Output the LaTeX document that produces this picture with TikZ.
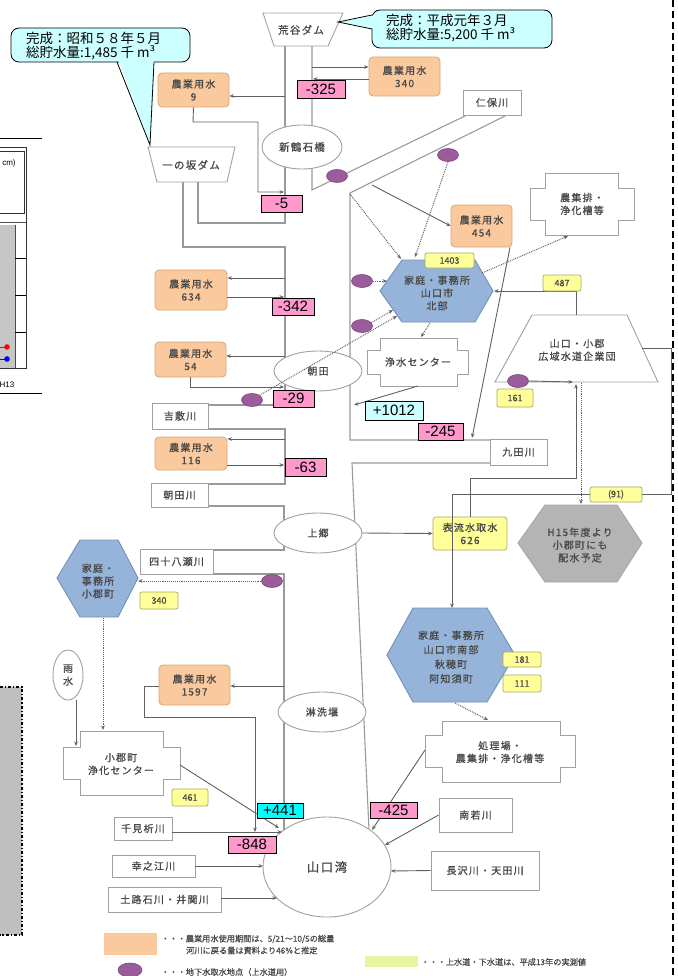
\documentclass[tikz,border=0pt]{standalone}
\usepackage{fontspec}
\setmainfont{Liberation Sans}
\newfontfamily\jp[LetterSpace=12,FakeBold=0.8]{Noto Sans CJK JP}
\newfontfamily\jpc{Noto Sans CJK JP}
\newfontfamily\jpy[FakeBold=0.6]{Noto Sans CJK JP}
\usetikzlibrary{arrows.meta,shapes.geometric}
\definecolor{rivc}{HTML}{9A9A9A}
\definecolor{flc}{HTML}{606060}
\definecolor{txt}{HTML}{484848}
\definecolor{boxd}{HTML}{A0A0A0}
\definecolor{agrif}{HTML}{FAC99E}
\definecolor{agrid}{HTML}{D8A676}
\definecolor{pinkf}{HTML}{FF99CC}
\definecolor{cyanl}{HTML}{CCFFFF}
\definecolor{cyand}{HTML}{00FFFF}
\definecolor{yelf}{HTML}{FFFF99}
\definecolor{yeld}{HTML}{A8A860}
\definecolor{hexf}{HTML}{96B4DA}
\definecolor{hexd}{HTML}{7090B8}
\definecolor{grayf}{HTML}{B4B4B4}
\definecolor{purf}{HTML}{9A5C9A}
\definecolor{purd}{HTML}{7A467A}
\definecolor{legy}{HTML}{E8F5A0}
\newcommand\boxfont{\jp\fontsize{10}{12.8}\selectfont}
\newcommand\numfont{\fontsize{15}{15}\selectfont}
\newcommand\yelfont{\jpy\fontsize{9}{10}\selectfont}
\newcommand\calfont{\jpc\fontsize{13.5}{14.5}\selectfont}
\newcommand\legfont{\jpy\fontsize{8.2}{11}\selectfont}
\begin{document}
\begin{tikzpicture}[x=1pt,y=-1pt,
 wh/.style 2 args={minimum width=#1pt, minimum height=#2pt},
 riv/.style={draw=rivc, line width=1.1pt},
 fl/.style={draw=flc, line width=0.9pt, -{Stealth[length=4.5pt,width=3.6pt]}},
 dfl/.style={fl, densely dotted, line width=1pt},
 agri/.style={draw=agrid, fill=agrif, rounded corners=4pt, line width=0.8pt, inner sep=0pt, align=center, font=\boxfont, text=txt},
 pnk/.style={draw=black, fill=pinkf, inner sep=0pt, font=\numfont, line width=0.7pt},
 cyl/.style={pnk, fill=cyanl},
 cyd/.style={pnk, fill=cyand},
 yel/.style={draw=yeld, fill=yelf, rounded corners=2pt, inner sep=0pt, font=\yelfont, text=txt, line width=0.7pt, align=center},
 rbox/.style={draw=boxd, fill=white, inner sep=0pt, font=\boxfont, text=txt, line width=0.9pt},
 ell/.style={ellipse, draw=boxd, fill=white, inner sep=0pt, font=\boxfont, text=txt, line width=0.9pt, align=center},
 shp/.style={draw=boxd, fill=white, line width=0.9pt},
 hexb/.style={draw=hexd, fill=hexf, line width=0.9pt},
 purp/.style={ellipse, draw=purd, fill=purf, minimum width=21pt, minimum height=13pt, inner sep=0pt, line width=0.6pt},
 lbl/.style={inner sep=0pt, align=center, font=\boxfont, text=txt},
 cal/.style={draw=black, fill=cyanl, line width=0.8pt},
 leg/.style={inner sep=0pt, anchor=west, font=\legfont, text=txt, align=left}
]
\useasboundingbox (0,0) rectangle (677,976);

% ---------- left cut-off chart ----------
\draw[line width=0.8pt] (0,138) -- (42,138);
\draw[line width=0.8pt] (0,393) -- (42,393);
\fill[gray!45] (0,225) rectangle (15,368);
\draw[line width=0.9pt, black!80] (0,147) -- (26,147) -- (26,368) -- (0,368);
\draw[line width=0.8pt, black!80] (0,151) -- (24,151) -- (24,213) -- (0,213);
\draw[line width=0.8pt, black!70] (0,222) -- (26,222);
\draw[line width=0.8pt, black!70] (15,225) -- (15,368);
\draw[line width=0.8pt] (15,258) -- (26,258) (15,295) -- (26,295) (15,332) -- (26,332);
\draw[red, line width=0.8pt] (0,347) -- (7,347);
\fill[red] (7,347) circle (2.8);
\draw[blue, line width=0.8pt] (0,359) -- (7,359);
\fill[blue] (7,359) circle (2.8);
\node[inner sep=0pt, font=\fontsize{8}{9}\selectfont] (cmlab) at (9,163) {cm)};
\node[inner sep=0pt, font=\fontsize{8}{9}\selectfont] (h13) at (7,385) {H13};

% ---------- grey box bottom left ----------
\fill[gray!50] (0,687) rectangle (22,935);
\draw[line width=1.1pt, dash dot] (0,687) -- (22,687) -- (22,935) -- (0,935);

% ---------- right dashed border ----------
\draw[line width=1.6pt, dash pattern=on 7pt off 4pt] (673,0) -- (673,976);

% ---------- rivers ----------
\draw[riv] (285,46) -- (285,223) -- (198,223) -- (198,182);
\draw[riv] (183,182) -- (183,247) -- (285,247) -- (285,405) -- (208,405);
\draw[riv] (208,429) -- (285,429) -- (285,484) -- (208,484);
\draw[riv] (208,506) -- (284,506) -- (284,550) -- (213,550);
\draw[riv] (213,574) -- (284,574) -- (284,832);
\draw[riv] (312,46) -- (312,190) -- (467,115);
\draw[riv] (507,115) -- (350,193) -- (350,440) -- (490,440);
\draw[riv] (490,463) -- (352,463) -- (369,830);

% ---------- dams ----------
\draw[shp] (263,13) -- (343,13) -- (328,46) -- (274,46) -- cycle;
\node[lbl, font=\jp\fontsize{10.5}{12}\selectfont] (arataki) at (301,30) {荒谷ダム};
\draw[shp] (148,147) -- (235,147) -- (227,182) -- (157,182) -- cycle;
\node[lbl, font=\jp\fontsize{10.5}{12}\selectfont] (ichinosaka) at (191,165) {一の坂ダム};

% ---------- ellipses (places) ----------
\node[ell, wh={80}{44}, font=\jp\fontsize{10.5}{12}\selectfont] (shintsuru) at (302,147) {新鶴石橋};
\node[ell, wh={88}{40}] (asada) at (318,371) {朝田};
\node[ell, wh={88}{40}] (kamigo) at (318,533) {上郷};
\node[ell, wh={88}{40}] (shisen) at (322,712) {淋洗堰};
\node[ell, wh={128}{100}, font=\jp\fontsize{12.5}{14}\selectfont] (bay) at (327,867) {山口湾};
\node[ell, wh={30}{50}] (rain) at (68,675) {雨\\水};

% ---------- agricultural water ----------
\node[agri, wh={71}{34}] (a9) at (193.5,90) {農業用水\\9};
\node[agri, wh={71}{39}] (a340) at (404.5,76.5) {農業用水\\340};
\node[agri, wh={61}{42}] (a454) at (481.5,226) {農業用水\\454};
\node[agri, wh={72}{40}] (a634) at (191,290) {農業用水\\634};
\node[agri, wh={71}{35}] (a54) at (190.5,359.5) {農業用水\\54};
\node[agri, wh={72}{33}] (a116) at (191,453.5) {農業用水\\116};
\node[agri, wh={71}{40}] (a1597) at (194.5,685) {農業用水\\1597};

% ---------- river name boxes ----------
\node[rbox, wh={58}{25}] (nihogawa) at (492,102.5) {仁保川};
\node[rbox, wh={56}{26}] (yoshiki) at (180,416) {吉敷川};
\node[rbox, wh={57}{26}] (kuta) at (518.5,452) {九田川};
\node[rbox, wh={57}{24}] (asadagawa) at (179.5,495) {朝田川};
\node[rbox, wh={73}{25}] (yosenose) at (176.5,561.5) {四十八瀬川};
\node[rbox, wh={58}{23}] (chimi) at (143,828.5) {千見析川};
\node[rbox, wh={83}{22}] (kounoe) at (153.5,866) {幸之江川};
\node[rbox, wh={113}{25}] (toroishi) at (164.5,899.5) {土路石川・井関川};
\node[rbox, wh={73}{34}] (minamiwaka) at (475.5,815) {南若川};
\node[rbox, wh={108}{39}] (nagasawa) at (485,870.5) {長沢川・天田川};

% ---------- cross shaped facilities ----------
\draw[shp] (380,338) -- (457,338) -- (457,350) -- (468,350) -- (468,374) -- (457,374) -- (457,386) -- (380,386) -- (380,374) -- (367,374) -- (367,350) -- (380,350) -- cycle;
\node[lbl] (josui) at (418,362) {浄水センター};
\draw[shp] (545,173) -- (618,173) -- (618,188) -- (634,188) -- (634,220) -- (618,220) -- (618,235) -- (545,235) -- (545,220) -- (530,220) -- (530,188) -- (545,188) -- cycle;
\node[lbl] (noshu) at (582,204) {農集排・\\浄化槽等};
\draw[shp] (80,731) -- (163,731) -- (163,747) -- (180,747) -- (180,779) -- (163,779) -- (163,795) -- (80,795) -- (80,779) -- (63,779) -- (63,747) -- (80,747) -- cycle;
\node[lbl] (ogori) at (121,764) {小郡町\\浄化センター};
\draw[shp] (442,721) -- (560,721) -- (560,735) -- (575,735) -- (575,767) -- (560,767) -- (560,782) -- (442,782) -- (442,767) -- (425,767) -- (425,735) -- (442,735) -- cycle;
\node[lbl] (shori) at (500,752) {処理場・\\農集排・浄化槽等};

% ---------- water authority trapezoid ----------
\draw[shp] (532,315) -- (627,315) -- (658,382) -- (495,382) -- cycle;
\node[lbl] (kouiki) at (577,350) {山口・小郡\\広域水道企業団};

% ---------- hexagons ----------
\draw[hexb] (380,291) -- (402,260) -- (475,260) -- (493,291) -- (475,322) -- (402,322) -- cycle;
\node[lbl] (hokubu) at (437,293) {家庭・事務所\\山口市\\北部};
\draw[hexb] (57,578) -- (80,540) -- (118,540) -- (138,578) -- (118,617) -- (80,617) -- cycle;
\node[lbl] (ogorihex) at (98,581) {家庭・\\事務所\\小郡町};
\draw[draw=gray!70, fill=grayf, line width=0.9pt] (518,543) -- (545,505) -- (617,505) -- (642,543) -- (617,582) -- (545,582) -- cycle;
\node[lbl] (h15) at (580,545) {H15年度より\\小郡町にも\\配水予定};
\draw[hexb] (387,655) -- (413,608) -- (487,608) -- (515,655) -- (487,702) -- (413,702) -- cycle;
\node[lbl, font=\jp\fontsize{10}{14.5}\selectfont] (nanbu) at (451,657) {家庭・事務所\\山口市南部\\秋穂町\\阿知須町};

% ---------- surface water intake ----------
\node[yel, wh={74}{33}, rounded corners=3pt, font=\boxfont] (hyoryu) at (470,533.5) {表流水取水\\626};

% ---------- groundwater points ----------
\node[purp] (g1) at (337,176) {};
\node[purp] (g2) at (448,155) {};
\node[purp] (g3) at (362,281) {};
\node[purp] (g4) at (362,326) {};
\node[purp] (g5) at (252,400) {};
\node[purp] (g6) at (518,381) {};
\node[purp] (g7) at (272,581) {};

% ---------- flows ----------
\draw[fl] (285,96) -- (a9.east |- 0,96);
\draw[fl] (a9.south) -- (193,122) -- (258,122) -- (258,192) -- (284,192);
\draw[fl] (312,67) -- (a340.west |- 0,67);
\draw[fl] (a340.west |- 0,79) -- (313,79);
\draw[fl] (285,278) -- (a634.east |- 0,278);
\draw[fl] (a634.east |- 0,297) -- (284,297);
\draw[fl] (285,356) -- (a54.east |- 0,356);
\draw[fl] (190,377) -- (190,387) -- (284,387);
\draw[fl] (285,439) -- (a116.east |- 0,439);
\draw[fl] (a116.east |- 0,465) -- (284,465);
\draw[fl] (284,686) -- (a1597.east |- 0,686);
\draw[fl] (a1597.west |- 0,686) -- (144,686) -- (144,717) -- (255,717) -- (255,832);
\draw[fl] (180,765) -- (279,828);
\draw[fl] (chimi.east |- 0,832) -- (282,832);
\draw[fl] (kounoe.east) -- (263,866);
\draw[fl] (toroishi.east |- 0,898) -- (277,898);
\draw[fl] (425,750) -- (372,830);
\draw[fl] (minamiwaka.west) -- (385,845);
\draw[fl] (nagasawa.west) -- (391,871);
\draw[fl] (kamigo.east) -- (hyoryu.west);
\draw[fl] (470,517) -- (470,478) -- (576,478) -- (576,384);
\draw[fl] (642,348) -- (671,348) -- (671,494) -- (452,494) -- (452,608);
\draw[fl] (g6.east) -- (573,382);
\draw[fl] (576,315) -- (576,291) -- (494,291);
\draw[fl] (418,386) -- (354,405);
\draw[fl] (a454.south -| 510,0) -- (472,438);
\draw[fl] (372,185) -- (a454.west);
\draw[fl] (rain.south -| 76,0) -- (76,746);

% dotted
\draw[dfl] (350,194) -- (401,259);
\draw[dfl] (g2.south) -- (415,257);
\draw[dfl] (g3.east) -- (387,281);
\draw[dfl] (371,323) -- (393,310);
\draw[dfl] (g5.north east) -- (397,316);
\draw[dfl] (430,323) -- (421,337);
\draw[dfl] (482,273) -- (568,236);
\draw[dfl] (581,383) -- (581,504);
\draw[dfl] (g7.west) -- (138,581);
\draw[dfl] (103,618) -- (103,730);
\draw[dfl] (455,703) -- (488,720);

% ---------- value labels ----------
\node[pnk, wh={48}{18}] (v325) at (321,89) {-325};
\node[pnk, wh={41}{17}] (v5) at (281.5,203.5) {-5};
\node[pnk, wh={42}{17}] (v342) at (293,306.5) {-342};
\node[pnk, wh={41}{17}] (v29) at (293.5,398.5) {-29};
\node[pnk, wh={41}{18}] (v63) at (305.5,467) {-63};
\node[pnk, wh={45}{17}] (v245) at (440.5,431.5) {-245};
\node[pnk, wh={48}{17}] (v848) at (252,844.5) {-848};
\node[pnk, wh={47}{16}] (v425) at (393.5,810) {-425};
\node[cyl, wh={58}{19}] (v1012) at (394,410.5) {+1012};
\node[cyd, wh={46}{15}] (v441) at (280,810.5) {+441};

\node[yel, wh={49}{15}] (y1403) at (449.5,260.5) {1403};
\node[yel, wh={38}{16}] (y487) at (562,283) {487};
\node[yel, wh={36}{18}] (y161) at (515,398) {161};
\node[yel, wh={52}{15}] (y91) at (616,494.5) {(91)};
\node[yel, wh={38}{17}] (y340) at (159,600.5) {340};
\node[yel, wh={36}{17}] (y461) at (190,797.5) {461};
\node[yel, wh={38}{15}] (y181) at (522,659.5) {181};
\node[yel, wh={38}{17}] (y111) at (522,683.5) {111};

% ---------- callouts ----------
\draw[cal, rounded corners=8pt] (11,28) rectangle (190,62);
\fill[cyanl] (118,59) -- (150,145) -- (154,59) -- cycle;
\draw[line width=0.8pt] (117,62) -- (150,145) -- (154,62);
\node[inner sep=0pt, anchor=west, align=left, font=\calfont] (call1) at (26,46) {完成：昭和５８年５月\\総貯水量:1,485 千 m³};
\draw[cal, rounded corners=8pt] (372,10) rectangle (552,48);
\fill[cyanl] (375,15) -- (338,22) -- (375,29) -- cycle;
\draw[line width=0.8pt] (372,15) -- (338,22) -- (372,29);
\node[inner sep=0pt, anchor=west, align=left, font=\calfont] (call2) at (386,28) {完成：平成元年３月\\総貯水量:5,200 千 m³};

% ---------- legend ----------
\fill[agrif] (104,933) rectangle (157,955);
\node[leg] (leg1) at (161,939) {・・・農業用水使用期間は、5/21～10/5の総量};
\node[leg] (leg1b) at (186,950.5) {河川に戻る量は資料より46\%と推定};
\node[purp, minimum width=24pt, minimum height=14pt] (legp) at (130,970) {};
\node[leg] (leg2) at (161,972) {・・・地下水取水地点（上水道用）};
\fill[legy] (365,956) rectangle (418,967);
\node[leg] (leg3) at (421,962) {・・・上水道・下水道は、平成13年の実測値};
\end{tikzpicture}
\end{document}
